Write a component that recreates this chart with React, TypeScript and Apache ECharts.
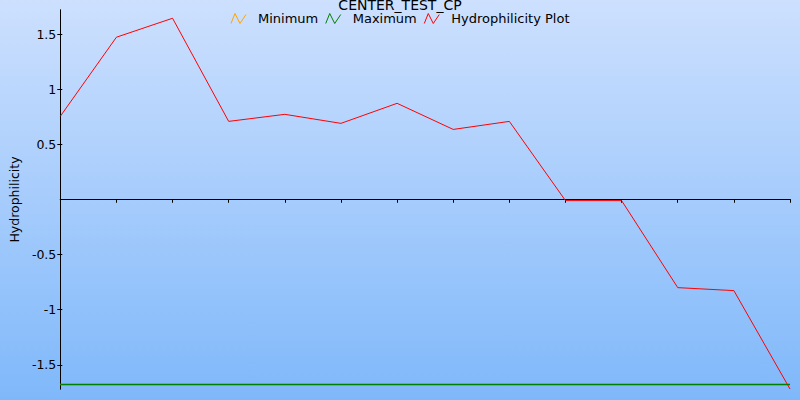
import React, { useEffect, useRef } from "react";
import * as echarts from "echarts";

const categories = ["1", "2", "3", "4", "5", "6", "7", "8", "9", "10", "11", "12", "13", "14"];
const hydrophilicity = [0.755, 1.473, 1.645, 0.709, 0.773, 0.691, 0.873, 0.636, 0.709, -0.01, -0.01, -0.8, -0.827, -1.72];
const minimum = [-1.68, -1.68, -1.68, -1.68, -1.68, -1.68, -1.68, -1.68, -1.68, -1.68, -1.68, -1.68, -1.68, -1.68];
const maximum = [-1.68, -1.68, -1.68, -1.68, -1.68, -1.68, -1.68, -1.68, -1.68, -1.68, -1.68, -1.68, -1.68, -1.68];
const yTicks = [-1.5, -1, -0.5, 0.5, 1, 1.5];

const FONT = "DejaVu Sans";
const ICON = "path://M0,10L4,0L9,10L15,1";

export default function App() {
  const ref = useRef<HTMLDivElement>(null);
  useEffect(() => {
    const chart = echarts.init(ref.current!, null, { renderer: "svg" });
    const yMin = -1.72;
    const yMax = 1.72;
    const baseX = {
      type: "category",
      data: categories,
      boundaryGap: false,
      axisLine: { onZero: true, lineStyle: { color: "#000", width: 1 } },
      axisLabel: { show: false },
      splitLine: { show: false },
    };
    const baseY = {
      type: "value",
      min: yMin,
      max: yMax,
      splitLine: { show: false },
      axisLine: { show: true, onZero: false, lineStyle: { color: "#000", width: 1 } },
    };
    chart.setOption({
      animation: false,
      backgroundColor: {
        type: "linear",
        x: 0, y: 0, x2: 0, y2: 1,
        colorStops: [
          { offset: 0, color: "#cde0fe" },
          { offset: 1, color: "#7fb8fa" },
        ],
      },
      title: {
        text: "CENTER_TEST_CP",
        left: "center",
        top: -7,
        textStyle: { fontFamily: FONT, fontSize: 14, fontWeight: "normal", color: "#000" },
      },
      legend: {
        top: 7,
        left: "center",
        itemWidth: 15,
        itemHeight: 10,
        itemGap: 7,
        textStyle: { fontFamily: FONT, fontSize: 13, color: "#000", padding: [0, 0, 0, 7] },
        data: [
          { name: "Minimum", icon: ICON, itemStyle: { color: "transparent", borderColor: "#ffa500", borderWidth: 1 } },
          { name: "Maximum", icon: ICON, itemStyle: { color: "transparent", borderColor: "#008000", borderWidth: 1 } },
          { name: "Hydrophilicity Plot", icon: ICON, itemStyle: { color: "transparent", borderColor: "#ff0000", borderWidth: 1 } },
        ],
      },
      grid: { left: 60, right: 10, top: 10, bottom: 11, containLabel: false },
      xAxis: [
        { ...baseX, axisTick: { show: true, inside: false, length: 3, lineStyle: { color: "#000" } } },
        { ...baseX, axisTick: { show: true, inside: true, length: 3, lineStyle: { color: "#000" } } },
      ],
      yAxis: [
        {
          ...baseY,
          name: "Hydrophilicity",
          nameLocation: "middle",
          nameGap: 37,
          nameTextStyle: { fontFamily: FONT, fontSize: 12.5, color: "#000" },
          axisTick: { show: true, inside: false, length: 3, customValues: yTicks, lineStyle: { color: "#000" } },
          axisLabel: {
            fontFamily: FONT,
            fontSize: 12.5,
            color: "#000",
            margin: 4,
            customValues: yTicks,
            formatter: (v: number) => String(v),
          },
        },
        {
          ...baseY,
          axisTick: { show: true, inside: true, length: 2, customValues: yTicks, lineStyle: { color: "#000" } },
          axisLabel: { show: false, customValues: yTicks },
          position: "left",
        },
      ],
      series: [
        {
          name: "Minimum",
          type: "line",
          data: minimum,
          showSymbol: false,
          lineStyle: { color: "#ffa500", width: 1.5 },
          itemStyle: { color: "#ffa500" },
        },
        {
          name: "Maximum",
          type: "line",
          data: maximum,
          showSymbol: false,
          lineStyle: { color: "#008000", width: 1.5 },
          itemStyle: { color: "#008000" },
        },
        {
          name: "Hydrophilicity Plot",
          type: "line",
          data: hydrophilicity,
          showSymbol: false,
          lineStyle: { color: "#ff0000", width: 1 },
          itemStyle: { color: "#ff0000" },
        },
      ],
    });
    return () => chart.dispose();
  }, []);
  return <div ref={ref} style={{ width: 800, height: 400, position: "fixed", left: 0, top: 0 }} />;
}
